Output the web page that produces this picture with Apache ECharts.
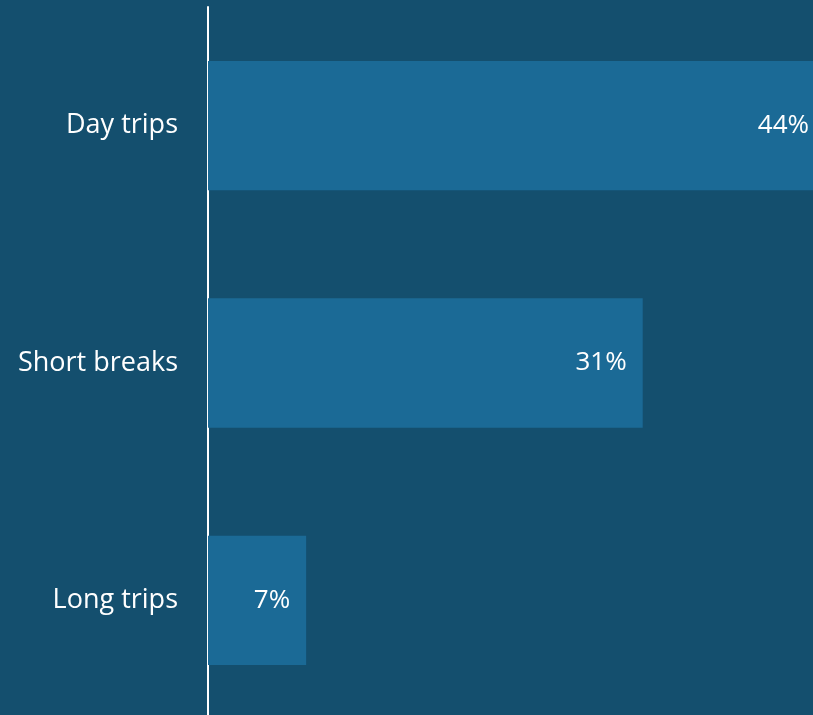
<!DOCTYPE html>
<html>
<head>
<meta charset="utf-8">
<script src="https://cdn.jsdelivr.net/npm/echarts@6/dist/echarts.min.js"></script>
<style>
  html, body { margin: 0; padding: 0; background: #144F6E; overflow: hidden; }
  /* the reference is cropped on the right and at the bottom, so the chart is drawn larger than the window */
  #chart { width: 830px; height: 725px; }
</style>
</head>
<body>
<div id="chart"></div>
<script>
var categories = ['Long trips', 'Short breaks', 'Day trips'];
var shares = [7, 31, 44];

var chart = echarts.init(document.getElementById('chart'));
var option = {
  backgroundColor: '#144F6E',
  animation: false,
  grid: {
    left: 208,
    top: 7,
    width: 617,
    height: 712,
    containLabel: false
  },
  xAxis: {
    type: 'value',
    min: 0,
    max: 44,
    show: false
  },
  yAxis: {
    type: 'category',
    data: categories,
    axisLine: {
      show: true,
      lineStyle: { color: '#ffffff', width: 2 }
    },
    axisTick: { show: false },
    axisLabel: {
      color: '#ffffff',
      fontFamily: 'Open Sans',
      fontSize: 27,
      margin: 30
    }
  },
  series: [{
    type: 'bar',
    data: shares,
    barCategoryGap: '45.5%',
    itemStyle: { color: '#1B6A96' },
    label: {
      show: true,
      position: 'insideRight',
      distance: 16,
      color: '#ffffff',
      fontFamily: 'Open Sans',
      fontSize: 26,
      formatter: '{c}%'
    }
  }]
};
chart.setOption(option);
</script>
</body>
</html>
